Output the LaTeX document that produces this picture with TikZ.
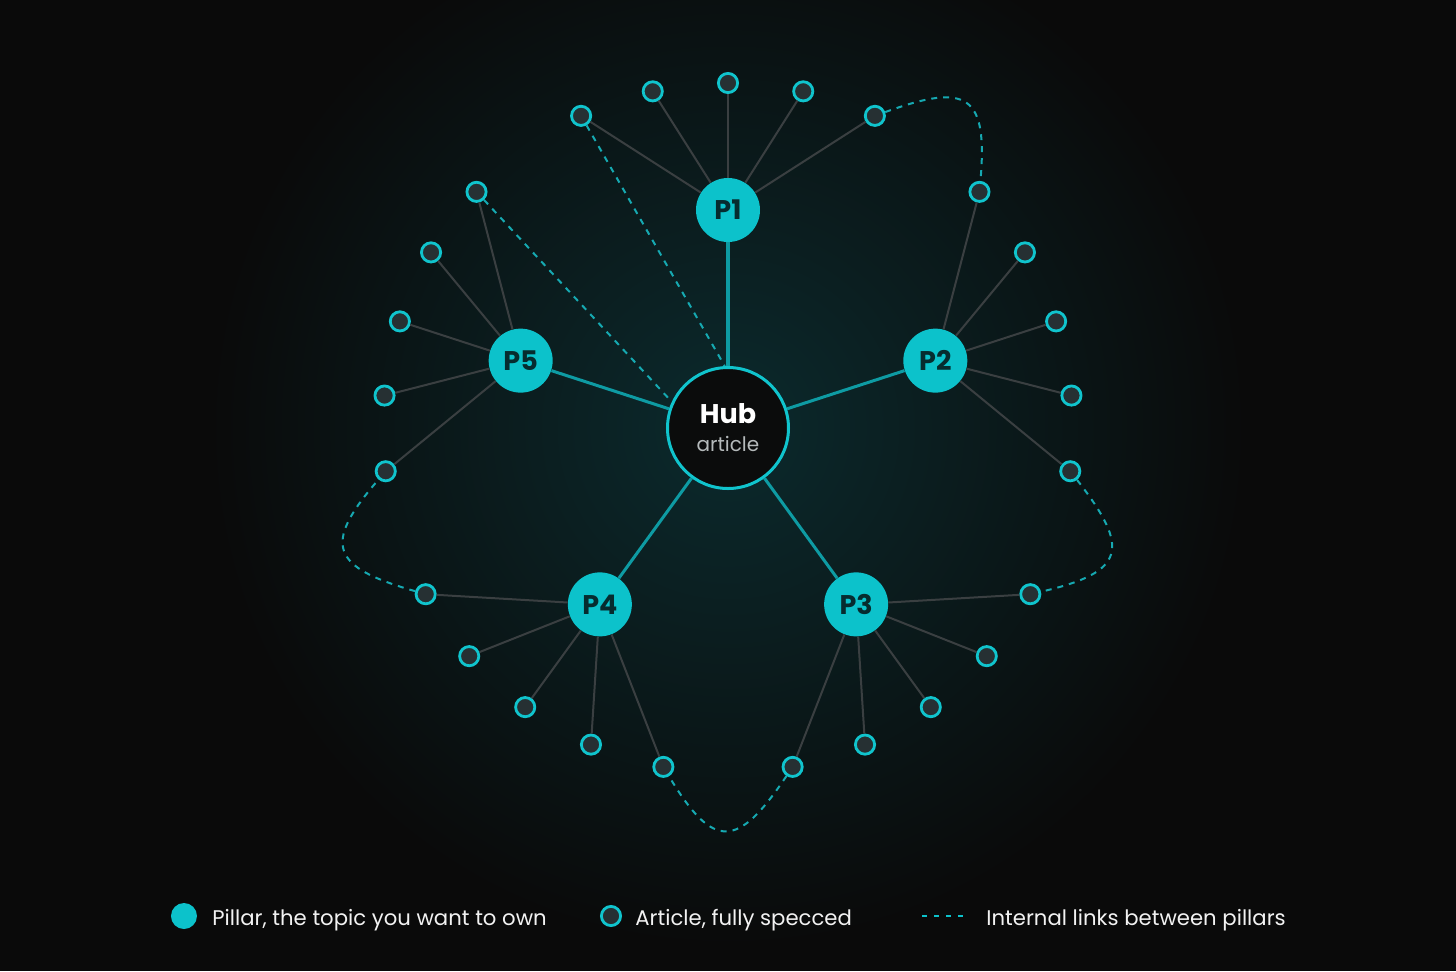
\documentclass[tikz,border=0pt]{standalone}
\usepackage{fontspec}
\setmainfont{Poppins}
\definecolor{bg}{HTML}{0A0A0A}
\definecolor{glow}{HTML}{0B2A2D}
\definecolor{teal}{HTML}{0CC2CB}
\definecolor{pilltext}{HTML}{062C2F}
\definecolor{hubline}{HTML}{0E9BA3}
\definecolor{artline}{HTML}{3A3F41}
\definecolor{artfill}{HTML}{263033}
\definecolor{ring}{HTML}{10C4CD}
\definecolor{linkc}{HTML}{16A9B1}
\definecolor{hubfill}{HTML}{0B0C0C}
\definecolor{subtext}{HTML}{B5BABB}
\definecolor{legtext}{HTML}{F2F2F2}
\tikzset{
  hubnode/.style={circle,draw=ring,line width=1.5pt,fill=hubfill,minimum size=60.5pt,inner sep=0pt,align=center},
  pillar/.style={circle,fill=teal,minimum size=32pt,inner sep=0pt,text=pilltext,font=\fontsize{13.5}{15}\selectfont\bfseries},
  article/.style={circle,draw=ring,line width=1.4pt,fill=artfill,minimum size=9.6pt,inner sep=0pt},
  hubline/.style={draw=hubline,line width=1.5pt},
  artline/.style={draw=artline,line width=1pt},
  linkline/.style={draw=linkc,line width=1pt,dash pattern=on 3pt off 3pt},
  legtxt/.style={anchor=base west,inner sep=0pt,text=legtext,font=\fontsize{10.6}{13}\selectfont},
}
\begin{document}
\begin{tikzpicture}[x=0.5pt,y=0.5pt]
\fill[bg] (-728,-543) rectangle (728,428);
\useasboundingbox (-728,-543) rectangle (728,428);
\shade[inner color=glow,outer color=bg] (0,0) circle (520);
% hub
\node[hubnode] (hub) at (0,0) {\fontsize{13.5}{15}\selectfont\bfseries\color{white}Hub\\[2pt]{\fontsize{10}{11}\selectfont\color{subtext}article}};
% pillars and articles
\foreach \i/\a in {1/90,2/18,3/-54,4/-126,5/162}{
  \node[pillar] (P\i) at (\a:218) {P\i};
  \draw[hubline] (hub) -- (P\i);
  \foreach \k in {1,...,5}{
    \node[article] (A\i\k) at ({\a+12.6*(3-\k)}:345) {};
    \draw[artline] (P\i) -- (A\i\k);
  }
}
% internal links
\draw[linkline] (A15) to[out=20,in=85,looseness=1.9] (A21);
\draw[linkline] (A25) to[out=-52,in=13,looseness=1.9] (A31);
\draw[linkline] (A35) to[out=-124,in=-59,looseness=1.9] (A41);
\draw[linkline] (A45) to[out=164,in=-131,looseness=1.9] (A51);
\draw[linkline] (A11) -- (hub.93);
\draw[linkline] (A55) -- (hub.155);
% legend
\node[circle,fill=teal,minimum size=13pt,inner sep=0pt] (L1) at (-544,-488) {};
\node[legtxt] (T1) at (-516,-497) {Pillar, the topic you want to own};
\node[article] (L2) at (-117,-488) {};
\node[legtxt] (T2) at (-93,-497) {Article, fully specced};
\coordinate (D1) at (194,-488);
\coordinate (D2) at (240,-488);
\draw[draw=teal,line width=0.8pt,dash pattern=on 2.5pt off 3.5pt] (D1) -- (D2);
\node[legtxt] (T3) at (258,-497) {Internal links between pillars};
\end{tikzpicture}
\end{document}
